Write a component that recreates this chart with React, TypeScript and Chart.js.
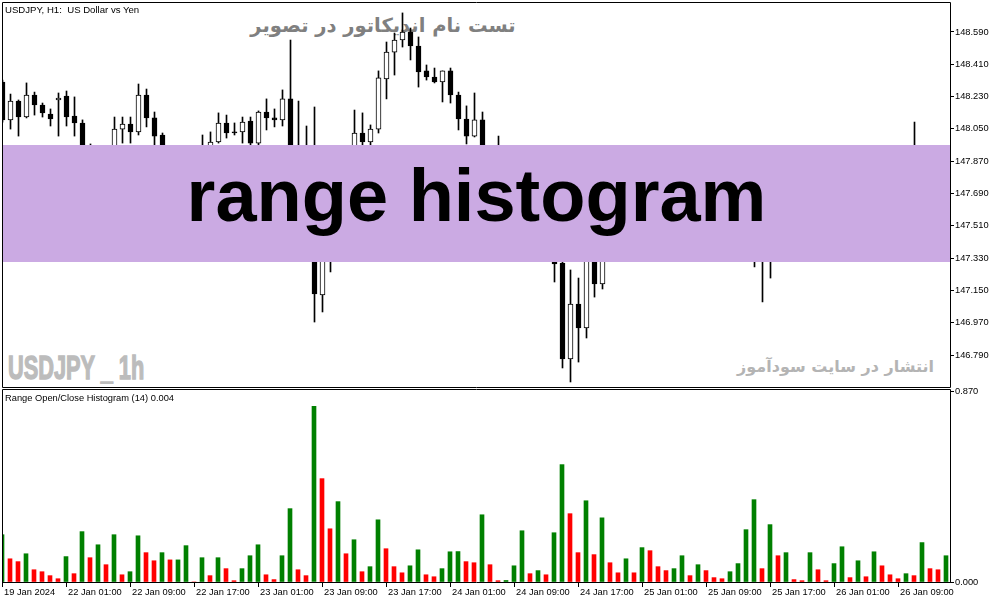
import React, { useEffect, useRef } from "react";
import { Chart, registerables } from "chart.js";

Chart.register(...registerables);

// ---------- DATA (USDJPY H1) ----------
const OPEN = [
  148.311, 148.100, 148.205, 148.116, 148.239, 148.183, 148.133, 148.211, 148.233, 148.122,
  148.083, 147.843, 147.944, 147.776, 147.832, 148.049, 148.077, 148.033, 148.239, 148.111,
  148.016, 147.882, 147.782, 147.882, 147.715, 147.810, 147.949, 147.977, 148.083, 148.033,
  148.033, 148.094, 147.971, 148.144, 148.111, 148.100, 148.217, 147.882, 147.938, 147.932,
  147.125, 147.598, 147.353, 147.721, 147.838, 148.027, 147.977, 148.049, 148.328, 148.478,
  148.545, 148.590, 148.512, 148.373, 148.339, 148.311, 148.373, 148.239, 148.105, 148.010,
  148.100, 147.793, 147.871, 147.877, 147.871, 147.799, 147.565, 147.604, 147.554, 147.520,
  147.303, 146.768, 147.074, 146.941, 147.308, 147.186, 147.481, 147.392, 147.431, 147.537,
  147.498, 147.654, 147.509, 147.581, 147.632, 147.570, 147.693, 147.665, 147.743, 147.693,
  147.715, 147.698, 147.654, 147.570, 147.810, 147.437, 147.375, 147.637, 147.520, 147.654,
  147.643, 147.648, 147.515, 147.570, 147.565, 147.648, 147.810, 147.788, 147.882, 147.860,
  147.721, 147.793, 147.827, 147.810, 147.849, 147.877, 147.698, 147.760, 147.704,
];
const HIGH = [
  148.322, 148.244, 148.211, 148.306, 148.255, 148.194, 148.161, 148.250, 148.261, 148.228,
  148.100, 147.966, 147.955, 147.888, 148.116, 148.116, 148.116, 148.300, 148.272, 148.144,
  148.027, 147.932, 147.921, 147.932, 147.765, 148.016, 148.033, 148.139, 148.127, 148.083,
  148.116, 148.116, 148.150, 148.217, 148.161, 148.267, 148.545, 148.205, 148.066, 148.172,
  147.626, 147.654, 147.765, 147.921, 148.155, 148.139, 148.072, 148.373, 148.534, 148.584,
  148.696, 148.612, 148.562, 148.406, 148.389, 148.373, 148.389, 148.255, 148.178, 148.250,
  148.144, 147.899, 148.010, 147.921, 147.899, 147.821, 147.626, 147.632, 147.587, 147.554,
  147.347, 147.264, 147.219, 147.347, 147.347, 147.509, 147.515, 147.453, 147.554, 147.570,
  147.676, 147.671, 147.609, 147.659, 147.654, 147.721, 147.732, 147.776, 147.765, 147.737,
  147.732, 147.721, 147.671, 147.832, 147.832, 147.453, 147.665, 147.665, 147.682, 147.676,
  147.671, 147.665, 147.598, 147.593, 147.671, 147.832, 147.843, 147.921, 147.910, 147.888,
  147.821, 147.849, 147.849, 147.877, 148.088, 147.905, 147.788, 147.782, 147.849,
];
const LOW = [
  148.088, 148.049, 148.010, 148.111, 148.127, 148.116, 148.066, 148.010, 148.066, 148.010,
  147.832, 147.821, 147.754, 147.743, 147.810, 147.971, 147.971, 148.016, 148.061, 147.944,
  147.860, 147.765, 147.754, 147.698, 147.676, 147.788, 147.932, 147.971, 147.999, 148.016,
  147.971, 147.944, 147.944, 148.044, 148.061, 148.066, 147.849, 147.860, 147.877, 146.974,
  147.030, 147.253, 147.331, 147.698, 147.821, 147.949, 147.960, 148.027, 148.217, 148.350,
  148.506, 148.434, 148.283, 148.322, 148.306, 148.200, 148.194, 148.044, 147.966, 148.005,
  147.765, 147.765, 147.843, 147.843, 147.776, 147.542, 147.531, 147.531, 147.498, 147.197,
  146.718, 146.640, 146.751, 146.885, 147.113, 147.158, 147.375, 147.370, 147.414, 147.476,
  147.481, 147.487, 147.492, 147.565, 147.548, 147.554, 147.637, 147.648, 147.671, 147.676,
  147.671, 147.632, 147.548, 147.542, 147.281, 147.086, 147.219, 147.498, 147.498, 147.620,
  147.620, 147.492, 147.492, 147.542, 147.548, 147.632, 147.771, 147.765, 147.838, 147.698,
  147.698, 147.776, 147.793, 147.793, 147.832, 147.676, 147.682, 147.676, 147.687,
];
const CLOSE = [
  148.100, 148.205, 148.116, 148.239, 148.183, 148.139, 148.105, 148.222, 148.116, 148.083,
  147.854, 147.955, 147.776, 147.854, 148.049, 148.077, 148.033, 148.239, 148.111, 148.010,
  147.882, 147.782, 147.882, 147.715, 147.715, 147.921, 147.977, 148.083, 148.027, 148.027,
  148.088, 147.971, 148.144, 148.111, 148.100, 148.217, 147.882, 147.938, 147.910, 147.130,
  147.598, 147.353, 147.721, 147.849, 148.027, 147.977, 148.049, 148.334, 148.478, 148.545,
  148.590, 148.512, 148.367, 148.339, 148.311, 148.373, 148.239, 148.105, 148.010, 148.100,
  147.793, 147.871, 147.877, 147.871, 147.799, 147.565, 147.604, 147.554, 147.520, 147.297,
  146.768, 147.074, 146.941, 147.314, 147.186, 147.481, 147.392, 147.431, 147.537, 147.498,
  147.654, 147.509, 147.581, 147.632, 147.570, 147.693, 147.665, 147.743, 147.693, 147.715,
  147.698, 147.654, 147.570, 147.810, 147.431, 147.375, 147.637, 147.520, 147.654, 147.643,
  147.648, 147.515, 147.570, 147.565, 147.648, 147.810, 147.788, 147.882, 147.860, 147.721,
  147.793, 147.827, 147.810, 147.849, 147.877, 147.698, 147.760, 147.704, 147.827,
];

// Range Open/Close Histogram (14)
const HIST = [
  0.216, 0.106, 0.093, 0.129, 0.056, 0.047, 0.029, 0.015, 0.116, 0.038,
  0.230, 0.111, 0.170, 0.079, 0.216, 0.033, 0.047, 0.211, 0.134, 0.097,
  0.134, 0.101, 0.101, 0.166, 0.000, 0.111, 0.029, 0.111, 0.061, 0.006,
  0.061, 0.120, 0.170, 0.033, 0.011, 0.120, 0.335, 0.056, 0.029, 0.802,
  0.472, 0.243, 0.367, 0.129, 0.193, 0.047, 0.070, 0.284, 0.152, 0.070,
  0.042, 0.074, 0.147, 0.033, 0.024, 0.061, 0.138, 0.139, 0.093, 0.088,
  0.307, 0.079, 0.006, 0.007, 0.074, 0.234, 0.038, 0.052, 0.033, 0.225,
  0.536, 0.312, 0.134, 0.371, 0.125, 0.293, 0.088, 0.042, 0.106, 0.042,
  0.157, 0.143, 0.070, 0.052, 0.061, 0.120, 0.029, 0.079, 0.052, 0.020,
  0.015, 0.047, 0.084, 0.239, 0.376, 0.061, 0.262, 0.120, 0.134, 0.011,
  0.006, 0.134, 0.056, 0.006, 0.084, 0.161, 0.020, 0.097, 0.024, 0.138,
  0.074, 0.033, 0.015, 0.038, 0.029, 0.180, 0.061, 0.056, 0.120,
];

const PRICE_TICKS = [146.79, 146.97, 147.15, 147.33, 147.51, 147.69, 147.87, 148.05, 148.23, 148.41, 148.59];
const PRICE_MIN = 146.6064;
const PRICE_MAX = 148.7569;
const HIST_TICKS = [0, 0.87];
const HIST_MAX = 0.8813;

const TIME_TICK_INDEX = [0, 8, 16, 24, 32, 40, 48, 56, 64, 72, 80, 88, 96, 104, 112];
const TIME_TICK_LABELS = [
  "19 Jan 2024", "22 Jan 01:00", "22 Jan 09:00", "22 Jan 17:00", "23 Jan 01:00",
  "23 Jan 09:00", "23 Jan 17:00", "24 Jan 01:00", "24 Jan 09:00", "24 Jan 17:00",
  "25 Jan 01:00", "25 Jan 09:00", "25 Jan 17:00", "26 Jan 01:00", "26 Jan 09:00",
];

const SYMBOL_TITLE = "USDJPY, H1:  US Dollar vs Yen";
const INDICATOR_TITLE = "Range Open/Close Histogram (14) 0.004";
const TOP_NOTE = "تست نام اندیکاتور در تصویر";
const BOTTOM_NOTE = "انتشار در سایت سودآموز";
const WATERMARK = "USDJPY _ 1h";
const BANNER = "range histogram";

// ---------- STYLE ----------
const UI_FONT = "'Liberation Sans', Arial, sans-serif";
const AXIS_FONT = { family: UI_FONT, size: 9.3 };
const GREEN = "#008000";
const RED = "#ff0000";

function makeFrame(bottomOffset: number) {
  return {
    id: "frame",
    afterDraw(chart: any) {
      const { ctx, chartArea } = chart;
      const { left, top, right, bottom } = chartArea;
      ctx.save();
      ctx.strokeStyle = "#000";
      ctx.lineWidth = 1;
      ctx.beginPath();
      ctx.moveTo(left + 0.5, top + 0.5);
      ctx.lineTo(right + 0.5, top + 0.5);
      ctx.lineTo(right + 0.5, bottom + bottomOffset);
      ctx.lineTo(left + 0.5, bottom + bottomOffset);
      ctx.closePath();
      ctx.stroke();
      ctx.restore();
    },
  };
}

export default function App() {
  const mainRef = useRef<HTMLCanvasElement | null>(null);
  const histRef = useRef<HTMLCanvasElement | null>(null);

  useEffect(() => {
    const wicks = LOW.map((l, i) => ({ x: i, y: [l, HIGH[i]] }));
    const bodies = OPEN.map((o, i) => ({ x: i, y: [o, CLOSE[i]] }));
    const bodyColors = OPEN.map((o, i) => (CLOSE[i] > o ? "#ffffff" : "#000000"));

    const main = new Chart(mainRef.current as HTMLCanvasElement, {
      type: "bar",
      data: {
        datasets: [
          {
            data: wicks as any,
            backgroundColor: "#000",
            borderWidth: 0,
            barThickness: 1,
            grouped: false,
            order: 2,
          } as any,
          {
            data: bodies as any,
            backgroundColor: bodyColors,
            borderColor: "#000",
            borderWidth: 1,
            borderSkipped: false,
            barThickness: 5,
            grouped: false,
            order: 1,
          } as any,
        ],
      },
      options: {
        animation: false,
        responsive: false,
        devicePixelRatio: 1,
        events: [],
        layout: { padding: { left: 2, top: 2, right: 0, bottom: 0 } },
        plugins: { legend: { display: false }, tooltip: { enabled: false } },
        scales: {
          x: {
            type: "linear",
            min: -0.0625,
            max: 118.4375,
            bounds: "data",
            offset: false,
            display: false,
            grid: { offset: false },
          },
          y: {
            position: "right",
            min: PRICE_MIN,
            max: PRICE_MAX,
            bounds: "data",
            afterFit: (s: any) => {
              s.width = 53;
              s.paddingTop = 0;
              s.paddingBottom = 0;
            },
            afterBuildTicks: (s: any) => {
              s.ticks = PRICE_TICKS.map((v) => ({ value: v }));
            },
            ticks: {
              font: AXIS_FONT,
              color: "#000",
              padding: 1,
              callback: (v: any) => Number(v).toFixed(3),
            },
            grid: { drawOnChartArea: false, drawTicks: true, tickLength: 4, color: "#000" },
            border: { display: false },
          },
        },
      } as any,
      plugins: [makeFrame(-0.5)],
    });

    const histColors = HIST.map((v, i) => (i === 0 || v >= HIST[i - 1] ? GREEN : RED));
    const hist = new Chart(histRef.current as HTMLCanvasElement, {
      type: "bar",
      data: {
        datasets: [
          {
            data: HIST.map((v, i) => ({ x: i, y: v })) as any,
            backgroundColor: histColors,
            borderWidth: 0,
            barThickness: 4,
          } as any,
        ],
      },
      options: {
        animation: false,
        responsive: false,
        devicePixelRatio: 1,
        events: [],
        layout: { padding: { left: 2, top: 1, right: 0, bottom: 0 } },
        plugins: { legend: { display: false }, tooltip: { enabled: false } },
        scales: {
          x: {
            type: "linear",
            min: 0,
            max: 118.5,
            bounds: "data",
            offset: false,
            afterFit: (s: any) => {
              s.height = 21;
              s.paddingLeft = 0;
              s.paddingRight = 0;
            },
            afterBuildTicks: (s: any) => {
              s.ticks = TIME_TICK_INDEX.map((v) => ({ value: v }));
            },
            ticks: {
              autoSkip: false,
              maxRotation: 0,
              minRotation: 0,
              align: "start",
              labelOffset: 2,
              padding: 0,
              font: AXIS_FONT,
              color: "#000",
              callback: (_v: any, i: number) => TIME_TICK_LABELS[i],
            },
            grid: { drawOnChartArea: false, drawTicks: true, tickLength: 5, color: "#000", offset: false },
            border: { display: false },
          },
          y: {
            position: "right",
            min: 0,
            max: HIST_MAX,
            bounds: "data",
            afterFit: (s: any) => {
              s.width = 53;
              s.paddingTop = 0;
              s.paddingBottom = 0;
            },
            afterBuildTicks: (s: any) => {
              s.ticks = HIST_TICKS.map((v) => ({ value: v }));
            },
            ticks: {
              font: AXIS_FONT,
              color: "#000",
              padding: 1,
              callback: (v: any) => Number(v).toFixed(3),
            },
            grid: { drawOnChartArea: false, drawTicks: true, tickLength: 4, color: "#000" },
            border: { display: false },
          },
        },
      } as any,
      plugins: [makeFrame(0.5)],
    });

    return () => {
      main.destroy();
      hist.destroy();
    };
  }, []);

  const abs: React.CSSProperties = { position: "absolute", whiteSpace: "pre", margin: 0 };

  return (
    <div
      style={{
        position: "fixed",
        left: 0,
        top: 0,
        width: 1003,
        height: 603,
        background: "#ffffff",
        overflow: "hidden",
      }}
    >
      {/* background watermarks */}
      <div
        dir="rtl"
        style={{
          ...abs,
          left: 233,
          top: 16,
          width: 300,
          textAlign: "center",
          font: "bold 19.5px 'DejaVu Sans', sans-serif",
          lineHeight: "19.5px",
          color: "#808080",
        }}
      >
        {TOP_NOTE}
      </div>
      <div
        style={{
          ...abs,
          left: 8,
          top: 350,
          font: "bold 34px 'Liberation Sans', Arial, sans-serif",
          lineHeight: "34px",
          color: "#bcbcbc",
          WebkitTextStroke: "1.4px #bcbcbc",
          transform: "scaleX(0.64)",
          transformOrigin: "0 0",
        }}
      >
        {WATERMARK}
      </div>
      <div
        dir="rtl"
        style={{
          ...abs,
          left: 600,
          top: 359,
          width: 334,
          textAlign: "right",
          font: "bold 16px 'DejaVu Sans', sans-serif",
          lineHeight: "16px",
          color: "#b4b4b4",
        }}
      >
        {BOTTOM_NOTE}
      </div>

      <canvas
        ref={mainRef}
        width={1003}
        height={388}
        style={{ position: "absolute", left: 0, top: 0, width: 1003, height: 388 }}
      />
      <canvas
        ref={histRef}
        width={1003}
        height={215}
        style={{ position: "absolute", left: 0, top: 388, width: 1003, height: 215 }}
      />

      <div style={{ ...abs, left: 5, top: 5, font: `9.6px ${UI_FONT}`, lineHeight: "9.6px", color: "#000" }}>
        {SYMBOL_TITLE}
      </div>
      <div style={{ ...abs, left: 5, top: 394, font: `9.3px ${UI_FONT}`, lineHeight: "9.3px", color: "#000" }}>
        {INDICATOR_TITLE}
      </div>

      {/* banner */}
      <div
        style={{
          position: "absolute",
          left: 3,
          top: 145,
          width: 947,
          height: 117,
          background: "rgb(203,170,227)",
        }}
      >
        <div
          style={{
            ...abs,
            left: 0,
            top: 14,
            width: 947,
            textAlign: "center",
            font: "bold 74px 'Liberation Sans', Arial, sans-serif",
            lineHeight: "74px",
            color: "#000",
          }}
        >
          {BANNER}
        </div>
      </div>
    </div>
  );
}
